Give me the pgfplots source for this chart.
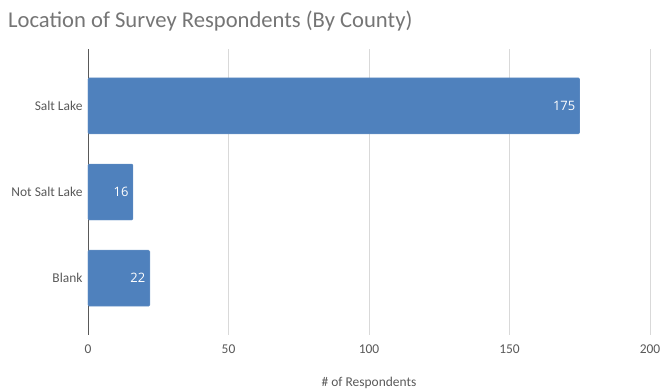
\documentclass[border=0pt]{standalone}
\usepackage{pgfplots}
\pgfplotsset{compat=1.18}
\usepackage{fontspec}
\setmainfont{Carlito}
\newfontfamily\valfont{Open Sans}
\definecolor{barblue}{HTML}{4F81BD}
\definecolor{titlegray}{HTML}{757575}
\definecolor{labelgray}{HTML}{595959}
\definecolor{gridgray}{HTML}{D9D9D9}
\begin{document}
\begin{tikzpicture}
\begin{axis}[
  scale only axis,
  width=562bp, height=286bp,
  xbar, bar width=0.65,
  xmin=0, xmax=200,
  ymin=-0.66, ymax=2.66,
  y dir=reverse,
  ytick={0,1,2},
  yticklabels={Salt Lake,Not Salt Lake,Blank},
  xtick={0,50,100,150,200},
  xmajorgrids, major grid style={gridgray, line width=1pt},
  axis x line*=bottom, axis y line*=left,
  x axis line style={draw=none},
  y axis line style={labelgray, line width=1pt},
  major tick length=0pt,
  tick label style={font=\fontsize{13.5}{16}\selectfont, text=labelgray},
  /pgf/number format/assume math mode=true,
  xticklabel style={yshift=-6bp},
  yticklabel style={xshift=-2bp},
  xlabel={\# of Respondents},
  xlabel style={font=\fontsize{13.5}{16}\selectfont, text=labelgray, yshift=-17bp},
  nodes near coords,
  nodes near coords style={font=\valfont\fontsize{13}{15}\selectfont, text=white, anchor=east, xshift=-1bp},
  clip=false,
]
\addplot[fill=barblue, draw=barblue!85!white, rounded corners=1.2bp] coordinates {(175,0) (16,1) (22,2)};
\end{axis}
\node[anchor=base west, inner sep=0pt, text=titlegray, font=\fontsize{22.7}{27}\selectfont] at (-80bp,307bp) {Location of Survey Respondents (By County)};
\pgfresetboundingbox
\useasboundingbox (-88bp,-55bp) rectangle (574bp,335bp);
\end{tikzpicture}
\end{document}
